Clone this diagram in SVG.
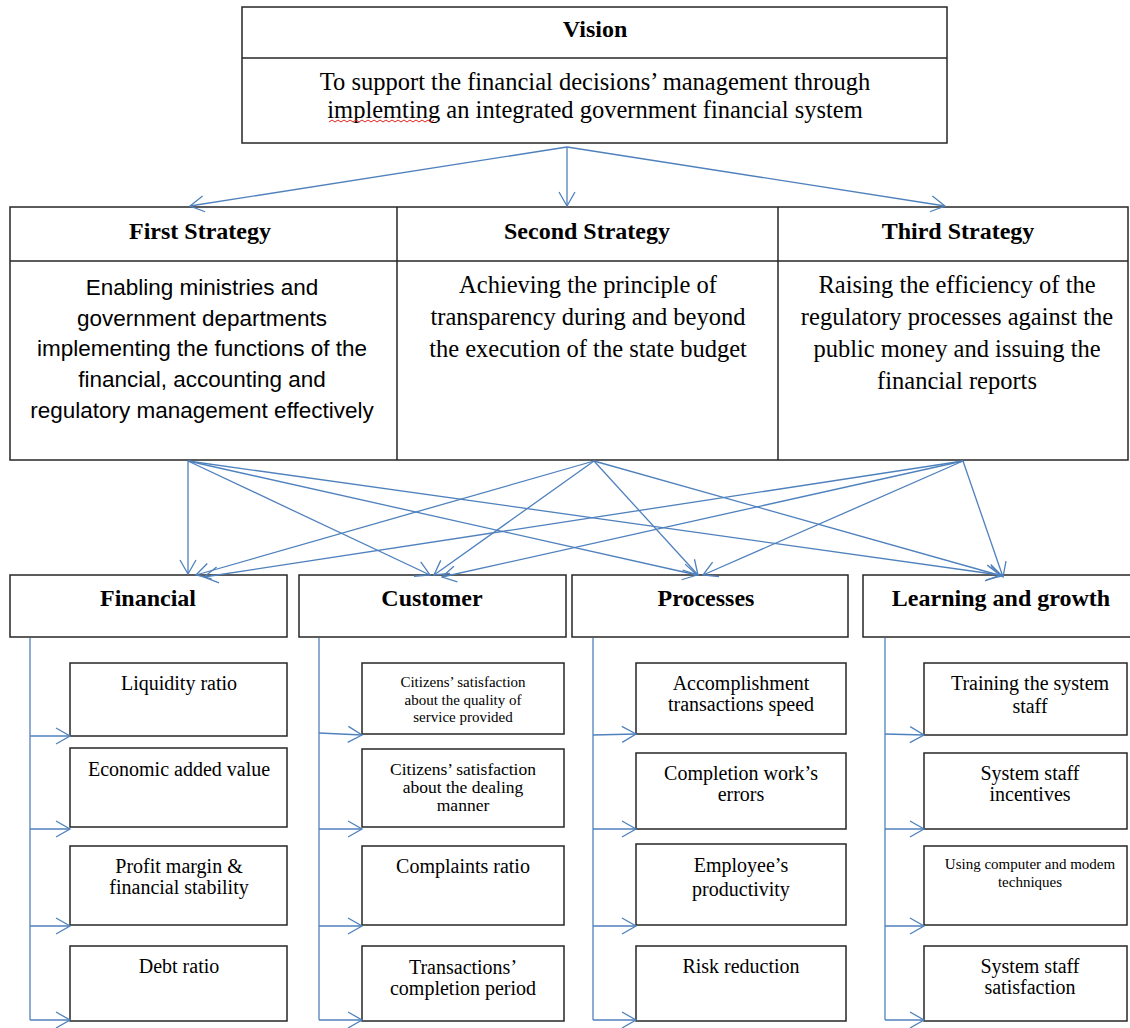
<svg xmlns="http://www.w3.org/2000/svg" width="1130" height="1028" viewBox="0 0 1130 1028">
  <style>
    .box { fill: #ffffff; stroke: #262626; stroke-width: 1.5; }
    .div { stroke: #262626; stroke-width: 1.5; fill: none; }
    .link { stroke: #4F81BD; stroke-width: 1.3; fill: none; marker-end: url(#arrow); }
    .rail { stroke: #4F81BD; stroke-width: 1.3; fill: none; }
    .head { font-family: "Liberation Serif", "Times New Roman", serif; font-weight: bold; font-size: 24px; fill: #000; text-anchor: middle; }
    .serif { font-family: "Liberation Serif", "Times New Roman", serif; font-size: 24.5px; fill: #000; text-anchor: middle; }
    .sans { font-family: "Liberation Sans", Arial, sans-serif; font-size: 22.5px; fill: #000; text-anchor: middle; }
    .kpi { font-family: "Liberation Serif", "Times New Roman", serif; font-size: 20px; fill: #000; text-anchor: middle; }
    .kpi-s { font-family: "Liberation Serif", "Times New Roman", serif; font-size: 15px; fill: #000; text-anchor: middle; }
    .kpi-m { font-family: "Liberation Serif", "Times New Roman", serif; font-size: 17.5px; fill: #000; text-anchor: middle; }
  </style>
  <defs>
    <marker id="arrow" viewBox="-16 -10 18 20" refX="0" refY="0" markerWidth="18" markerHeight="20" markerUnits="userSpaceOnUse" orient="auto">
      <path d="M-14,-8 L0,0 L-14,8" fill="none" stroke="#4F81BD" stroke-width="1.3"/>
    </marker>
  </defs>
  <rect width="1130" height="1028" fill="#ffffff"/>

  <!-- Vision -->
  <g id="vision">
    <rect class="box" x="242" y="7" width="705" height="136"/>
    <line class="div" x1="242" y1="58" x2="947" y2="58"/>
    <text class="head" x="595" y="37">Vision</text>
    <text class="serif" x="595" y="90">To support the financial decisions’ management through</text>
    <text class="serif" x="595" y="118">implemting  an integrated government financial system</text>
    <path d="M329,122 l3,-2 l3,2 l3,-2 l3,2 l3,-2 l3,2 l3,-2 l3,2 l3,-2 l3,2 l3,-2 l3,2 l3,-2 l3,2 l3,-2 l3,2 l3,-2 l3,2 l3,-2 l3,2 l3,-2 l3,2 l3,-2 l3,2 l3,-2 l3,2 l3,-2 l3,2 l3,-2 l3,2 l3,-2 l3,2 l3,-2 l3,2 l3,-2" fill="none" stroke="#e0201c" stroke-width="1"/>
  </g>

  <!-- Strategies -->
  <g id="strategies-frame">
    <rect class="box" x="10" y="207" width="1118" height="253"/>
    <line class="div" x1="10" y1="261" x2="1128" y2="261"/>
    <line class="div" x1="397" y1="207" x2="397" y2="460"/>
    <line class="div" x1="778" y1="207" x2="778" y2="460"/>
  </g>
  <g id="strategy-1">
    <text class="head" x="200" y="239">First Strategy</text>
    <text class="sans" x="202" y="295">Enabling ministries and</text>
    <text class="sans" x="202" y="326">government departments</text>
    <text class="sans" x="202" y="356">implementing the functions of the</text>
    <text class="sans" x="202" y="387">financial, accounting and</text>
    <text class="sans" x="202" y="418">regulatory management effectively</text>
  </g>
  <g id="strategy-2">
    <text class="head" x="587" y="239">Second Strategy</text>
    <text class="serif" x="588" y="293">Achieving the principle of</text>
    <text class="serif" x="588" y="325">transparency during and beyond</text>
    <text class="serif" x="588" y="357">the execution of the state budget</text>
  </g>
  <g id="strategy-3">
    <text class="head" x="958" y="239">Third Strategy</text>
    <text class="serif" x="957" y="293">Raising the efficiency of the</text>
    <text class="serif" x="957" y="325">regulatory processes against the</text>
    <text class="serif" x="957" y="357">public money and issuing the</text>
    <text class="serif" x="957" y="389">financial reports</text>
  </g>

  <!-- Perspectives -->
  <g id="financial">
    <rect class="box" x="10" y="575" width="277" height="62"/>
    <text class="head" x="148" y="606">Financial</text>
  </g>
  <g id="customer">
    <rect class="box" x="299" y="575" width="267" height="62"/>
    <text class="head" x="432" y="606">Customer</text>
  </g>
  <g id="processes">
    <rect class="box" x="572" y="575" width="276" height="62"/>
    <text class="head" x="706" y="606">Processes</text>
  </g>
  <g id="learning">
    <rect class="box" x="863" y="575" width="270" height="62"/>
    <text class="head" x="1001" y="606">Learning and growth</text>
  </g>

  <!-- Financial measures -->
  <g id="fin-1"><rect class="box" x="70" y="663" width="217" height="73"/><text class="kpi" x="179" y="690">Liquidity ratio</text></g>
  <g id="fin-2"><rect class="box" x="70" y="748" width="217" height="79"/><text class="kpi" x="179" y="776">Economic added value</text></g>
  <g id="fin-3"><rect class="box" x="70" y="846" width="217" height="79"/><text class="kpi" x="179" y="873">Profit margin &amp;</text><text class="kpi" x="179" y="894">financial stability</text></g>
  <g id="fin-4"><rect class="box" x="70" y="946" width="217" height="75"/><text class="kpi" x="179" y="973">Debt ratio</text></g>

  <!-- Customer measures -->
  <g id="cus-1"><rect class="box" x="362" y="663" width="202" height="71"/><text class="kpi-s" x="463" y="687">Citizens’ satisfaction</text><text class="kpi-s" x="463" y="705">about the quality of</text><text class="kpi-s" x="463" y="722">service provided</text></g>
  <g id="cus-2"><rect class="box" x="362" y="749" width="202" height="78"/><text class="kpi-m" x="463" y="775">Citizens’ satisfaction</text><text class="kpi-m" x="463" y="793">about the dealing</text><text class="kpi-m" x="463" y="811">manner</text></g>
  <g id="cus-3"><rect class="box" x="362" y="846" width="202" height="79"/><text class="kpi" x="463" y="873">Complaints ratio</text></g>
  <g id="cus-4"><rect class="box" x="362" y="946" width="202" height="75"/><text class="kpi" x="463" y="974">Transactions’</text><text class="kpi" x="463" y="995">completion period</text></g>

  <!-- Process measures -->
  <g id="pro-1"><rect class="box" x="636" y="663" width="210" height="71"/><text class="kpi" x="741" y="690">Accomplishment</text><text class="kpi" x="741" y="711">transactions speed</text></g>
  <g id="pro-2"><rect class="box" x="636" y="753" width="210" height="76"/><text class="kpi" x="741" y="780">Completion work’s</text><text class="kpi" x="741" y="801">errors</text></g>
  <g id="pro-3"><rect class="box" x="636" y="844" width="210" height="81"/><text class="kpi" x="741" y="872">Employee’s</text><text class="kpi" x="741" y="896">productivity</text></g>
  <g id="pro-4"><rect class="box" x="636" y="946" width="210" height="75"/><text class="kpi" x="741" y="973">Risk reduction</text></g>

  <!-- Learning measures -->
  <g id="lea-1"><rect class="box" x="924" y="663" width="203" height="72"/><text class="kpi" x="1030" y="690">Training the system</text><text class="kpi" x="1030" y="713">staff</text></g>
  <g id="lea-2"><rect class="box" x="924" y="753" width="203" height="76"/><text class="kpi" x="1030" y="780">System staff</text><text class="kpi" x="1030" y="801">incentives</text></g>
  <g id="lea-3"><rect class="box" x="924" y="846" width="203" height="79"/><text class="kpi-s" x="1030" y="869">Using computer and modem</text><text class="kpi-s" x="1030" y="887">techniques</text></g>
  <g id="lea-4"><rect class="box" x="924" y="946" width="203" height="75"/><text class="kpi" x="1030" y="973">System staff</text><text class="kpi" x="1030" y="994">satisfaction</text></g>

  <!-- Connectors -->
  <g id="connectors">
    <!-- vision to strategies -->
    <line class="link" x1="567" y1="147" x2="190" y2="206"/>
    <line class="link" x1="567" y1="147" x2="567" y2="206"/>
    <line class="link" x1="567" y1="147" x2="945" y2="206"/>

    <!-- first strategy to perspectives -->
    <line class="link" x1="188" y1="461" x2="188" y2="574"/>
    <line class="link" x1="188" y1="461" x2="430" y2="575"/>
    <line class="link" x1="188" y1="461" x2="697" y2="575"/>
    <line class="link" x1="188" y1="461" x2="1000" y2="575"/>

    <!-- second strategy to perspectives -->
    <line class="link" x1="594" y1="461" x2="196" y2="575"/>
    <line class="link" x1="594" y1="461" x2="434" y2="575"/>
    <line class="link" x1="594" y1="461" x2="698" y2="575"/>
    <line class="link" x1="594" y1="461" x2="1002" y2="576"/>

    <!-- third strategy to perspectives -->
    <line class="link" x1="963" y1="461" x2="204" y2="577"/>
    <line class="link" x1="963" y1="461" x2="442" y2="577"/>
    <line class="link" x1="963" y1="461" x2="703" y2="575"/>
    <line class="link" x1="963" y1="461" x2="1003" y2="577"/>

    <!-- financial rail -->
    <line class="rail" x1="30" y1="638" x2="30" y2="1020"/>
    <line class="link" x1="30" y1="736" x2="70" y2="736"/>
    <line class="link" x1="30" y1="829" x2="70" y2="829"/>
    <line class="link" x1="30" y1="926" x2="70" y2="926"/>
    <line class="link" x1="30" y1="1020" x2="70" y2="1020"/>

    <!-- customer rail -->
    <line class="rail" x1="319" y1="638" x2="319" y2="1020"/>
    <line class="link" x1="319" y1="733" x2="362" y2="735"/>
    <line class="link" x1="319" y1="829" x2="362" y2="829"/>
    <line class="link" x1="319" y1="926" x2="362" y2="926"/>
    <line class="link" x1="319" y1="1020" x2="362" y2="1020"/>

    <!-- processes rail -->
    <line class="rail" x1="593" y1="638" x2="593" y2="1020"/>
    <line class="link" x1="593" y1="735" x2="636" y2="734"/>
    <line class="link" x1="593" y1="829" x2="636" y2="829"/>
    <line class="link" x1="593" y1="926" x2="636" y2="926"/>
    <line class="link" x1="593" y1="1020" x2="636" y2="1020"/>

    <!-- learning rail -->
    <line class="rail" x1="885" y1="638" x2="885" y2="1020"/>
    <line class="link" x1="885" y1="734" x2="924" y2="735"/>
    <line class="link" x1="885" y1="829" x2="924" y2="829"/>
    <line class="link" x1="885" y1="926" x2="924" y2="926"/>
    <line class="link" x1="885" y1="1020" x2="924" y2="1020"/>
  </g>
</svg>
